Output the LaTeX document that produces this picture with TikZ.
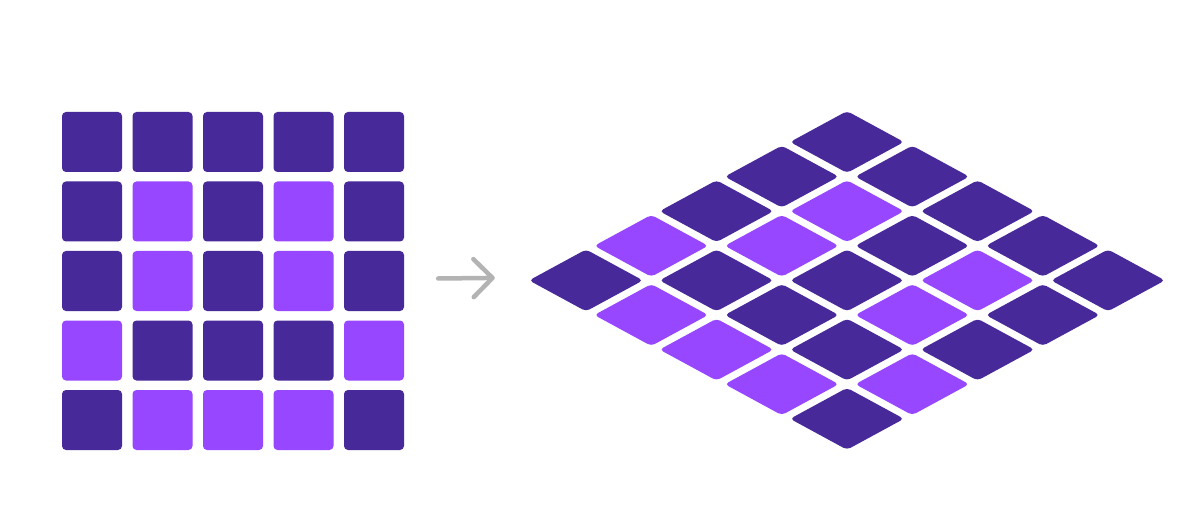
\documentclass[tikz,border=0pt]{standalone}
\usetikzlibrary{arrows.meta, shapes.geometric}
\definecolor{TileDark}{HTML}{47299A}
\definecolor{TileLight}{HTML}{9747FF}
\definecolor{ArrowGray}{HTML}{B3B3B3}
\colorlet{tone0}{TileDark}
\colorlet{tone1}{TileLight}

\begin{document}
\begin{tikzpicture}[
  x=1pt, y=-1pt,
  tile/.style={rectangle, rounded corners=4pt, minimum size=60pt, inner sep=0pt, draw=none},
  rhomb/.style={diamond, rounded corners=4pt, minimum width=114pt, minimum height=62pt,
                inner sep=0pt, draw=none},
  arr/.style={-{Straight Barb[length=19pt, width=38pt, round]}, ArrowGray,
              line width=4.5pt, line cap=round},
]
  \fill[white] (0,0) rectangle (1199,521);
  \useasboundingbox (0,0) rectangle (1199,521);

  % flat grid on the left, tilted copy on the right
  \foreach \cells [count=\i from 0] in {{0,0,0,0,0},{0,1,0,1,0},{0,1,0,1,0},{1,0,0,0,1},{0,1,1,1,0}} {
    \foreach \c [count=\j from 0] in \cells {
      \node[tile, fill=tone\c] (s-\i-\j) at ({92+70.5*\j}, {142+69.5*\i}) {};
      \node[rhomb, fill=tone\c] (d-\i-\j) at ({847+65.25*(\j-\i)}, {142+34.6*(\i+\j)}) {};
    }
  }

  \draw[arr] ([xshift=34pt, yshift=2.5pt]s-2-4.east) -- ([xshift=-34pt, yshift=2.5pt]d-4-0.west);
\end{tikzpicture}
\end{document}
